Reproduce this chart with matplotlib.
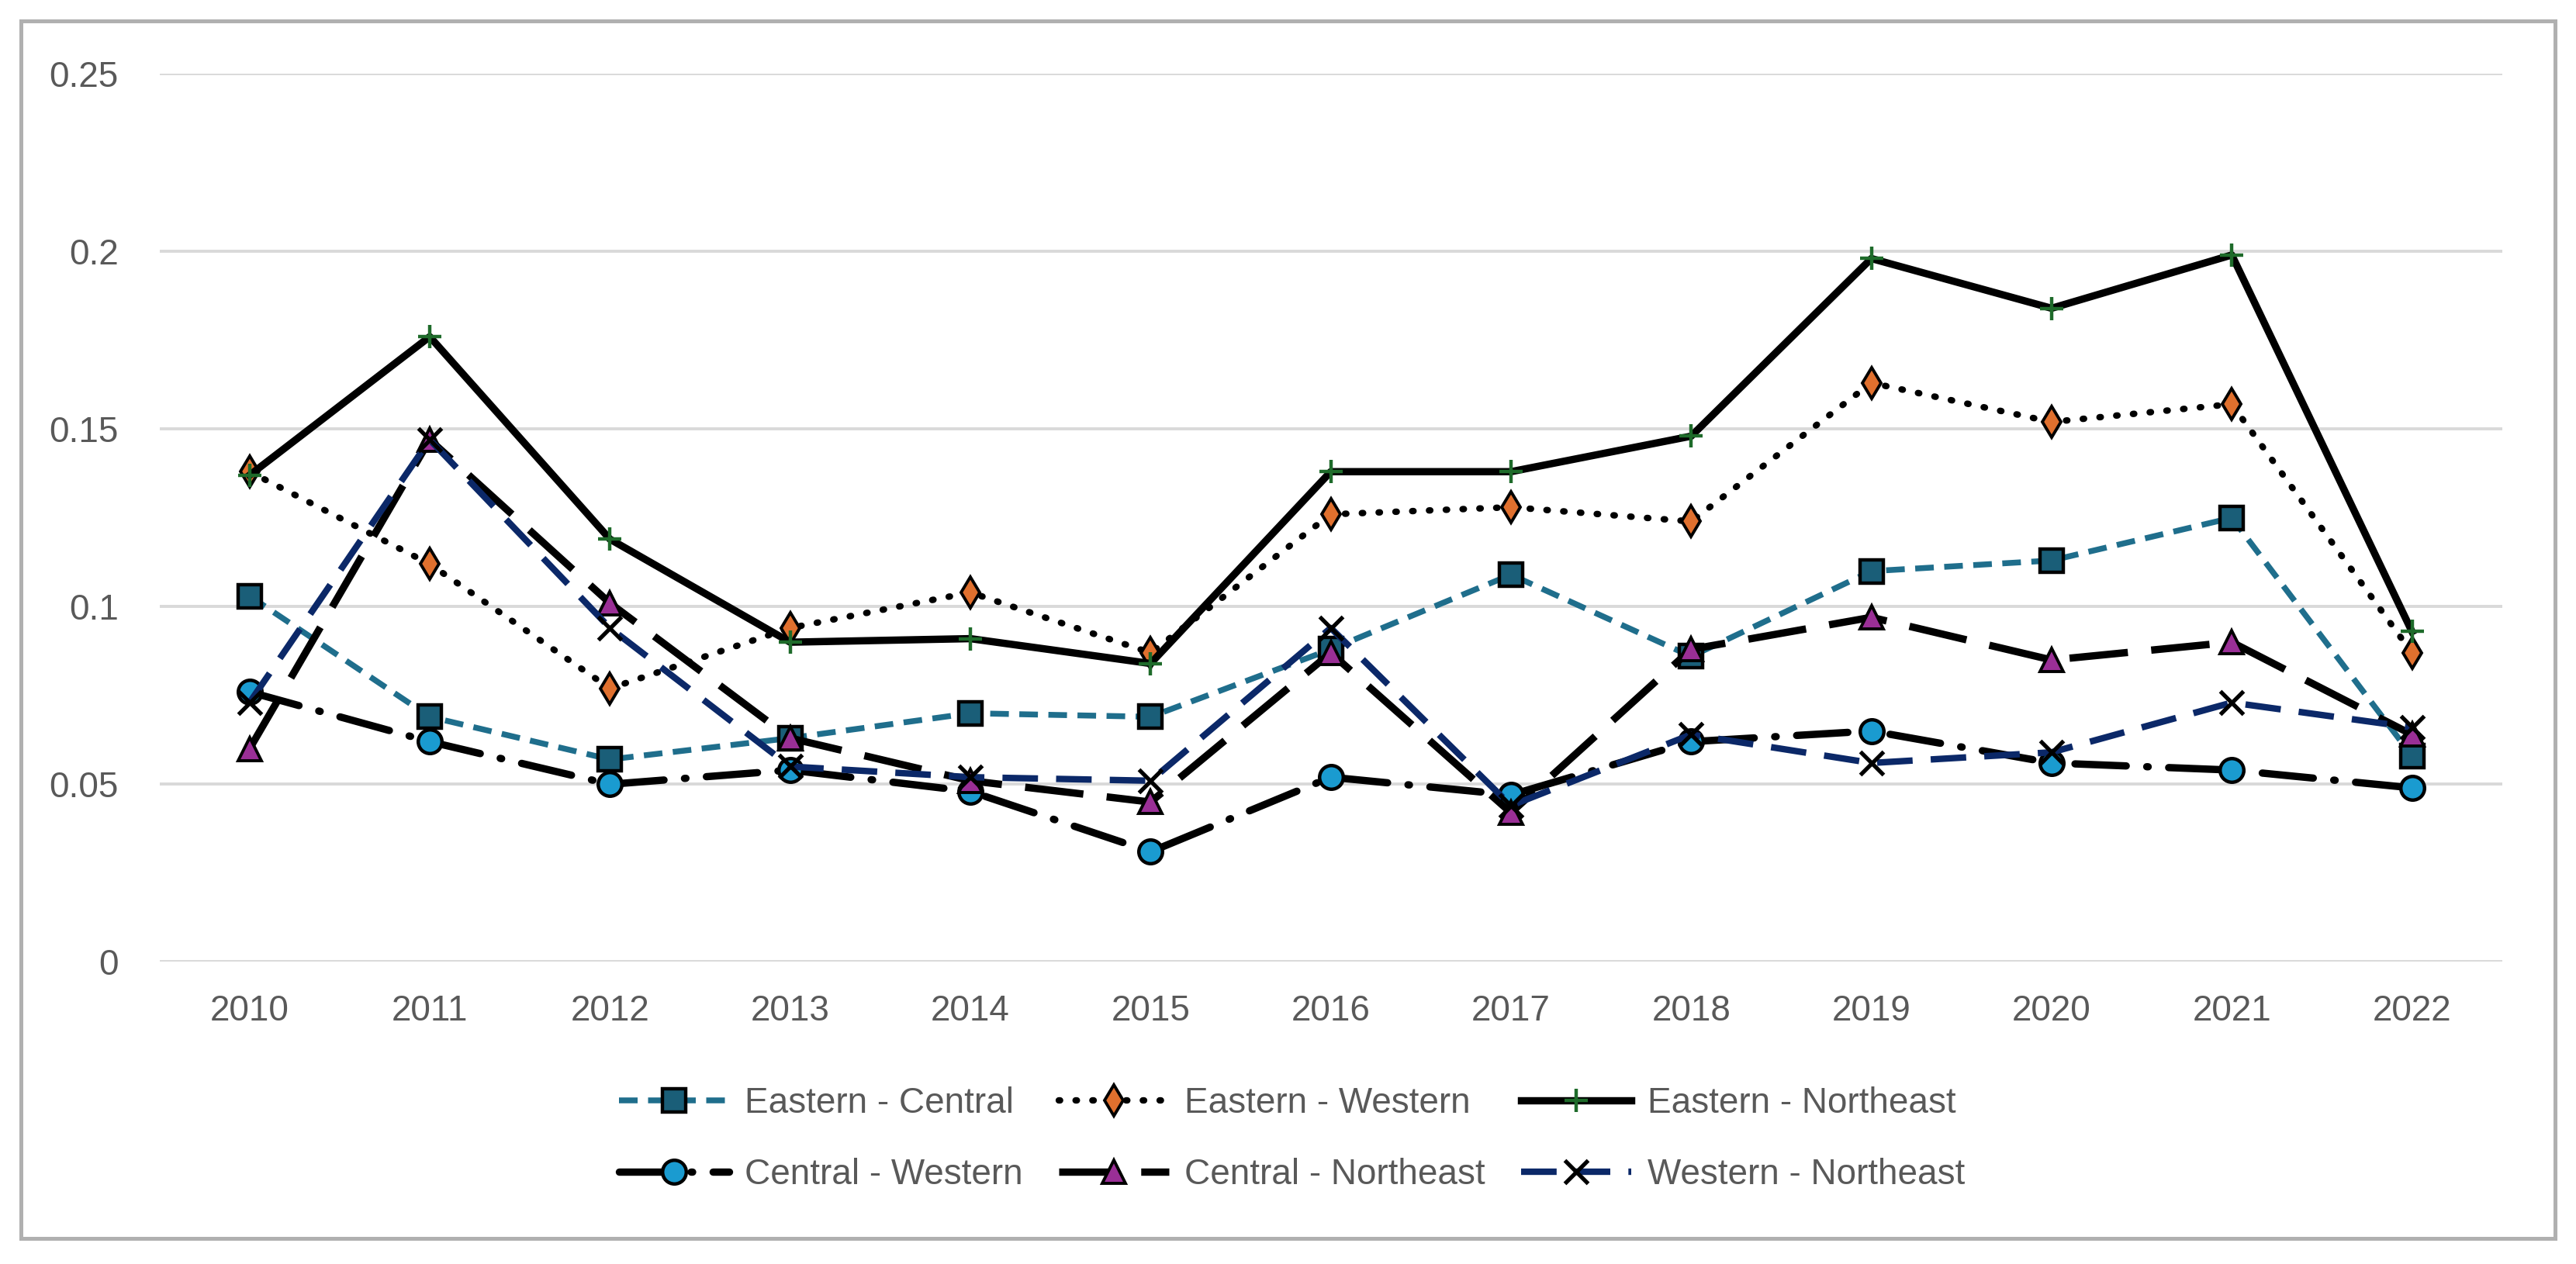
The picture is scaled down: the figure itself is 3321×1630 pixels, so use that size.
import matplotlib
matplotlib.use('Agg')
import matplotlib.pyplot as plt
from matplotlib.patches import Rectangle

plt.rcParams['font.family'] = ['Liberation Sans', 'DejaVu Sans']

years = ['2010', '2011', '2012', '2013', '2014', '2015', '2016',
         '2017', '2018', '2019', '2020', '2021', '2022']

eastern_central = [0.103, 0.069, 0.057, 0.063, 0.070, 0.069, 0.088,
                   0.109, 0.086, 0.110, 0.113, 0.125, 0.058]
eastern_western = [0.138, 0.112, 0.077, 0.094, 0.104, 0.087, 0.126,
                   0.128, 0.124, 0.163, 0.152, 0.157, 0.087]
eastern_northeast = [0.137, 0.176, 0.119, 0.090, 0.091, 0.084, 0.138,
                     0.138, 0.148, 0.198, 0.184, 0.199, 0.093]
central_western = [0.076, 0.062, 0.050, 0.054, 0.048, 0.031, 0.052,
                   0.047, 0.062, 0.065, 0.056, 0.054, 0.049]
central_northeast = [0.060, 0.147, 0.101, 0.063, 0.051, 0.045, 0.087,
                     0.042, 0.088, 0.097, 0.085, 0.090, 0.064]
western_northeast = [0.073, 0.147, 0.094, 0.055, 0.052, 0.051, 0.094,
                     0.044, 0.064, 0.056, 0.059, 0.073, 0.066]

labels = ['Eastern - Central', 'Eastern - Western', 'Eastern - Northeast',
          'Central - Western', 'Central - Northeast', 'Western - Northeast']

fig = plt.figure(figsize=(16.605, 8.15), dpi=200)
ax = fig.add_axes([0.0619, 0.2390, 0.9094, 0.7026])

x = list(range(len(years)))
grey_text = '#595959'
fs = 16.5

h1, = ax.plot(x, eastern_central, color='#1f6e8c', lw=2.7, dashes=(3.2, 1.8),
              marker='s', ms=11, mfc='#1a5e78', mec='black', mew=1.6, label=labels[0])
h2, = ax.plot(x, eastern_western, color='black', lw=3.0, dashes=(0.2, 2.4),
              dash_capstyle='round', marker='d', ms=10, mfc='#e0702e', mec='black',
              mew=1.4, label=labels[1])
h3, = ax.plot(x, eastern_northeast, color='black', lw=3.4, marker='+', ms=11,
              mec='#1e6b2a', mew=1.6, label=labels[2])
h4, = ax.plot(x, central_western, color='black', lw=3.4, dashes=(7.0, 2.8, 0.2, 2.8),
              dash_capstyle='round', marker='o', ms=11, mfc='#1a9bd0', mec='black',
              mew=1.6, label=labels[3])
h5, = ax.plot(x, central_northeast, color='black', lw=3.4, dashes=(8.0, 3.2),
              marker='^', ms=11, mfc='#9a2f96', mec='black', mew=1.4, label=labels[4])
h6, = ax.plot(x, western_northeast, color='#0b2868', lw=3.0, dashes=(5.5, 2.8),
              marker='x', ms=11, mec='black', mew=1.9, label=labels[5])

for h in (h1, h2, h3, h4, h5, h6):
    h.set_clip_on(False)

ax.set_xlim(-0.5, len(years) - 0.5)
ax.set_ylim(0, 0.25)
ax.set_xticks(x)
ax.set_xticklabels(years)
ax.set_yticks([0, 0.05, 0.1, 0.15, 0.2, 0.25])
ax.set_yticklabels(['0', '0.05', '0.1', '0.15', '0.2', '0.25'])
ax.tick_params(axis='both', length=0, labelsize=fs, colors=grey_text)
ax.tick_params(axis='y', pad=19)
ax.tick_params(axis='x', pad=15)
ax.grid(axis='y', color='#d9d9d9', lw=1.4)
ax.set_axisbelow(True)
for s in ax.spines.values():
    s.set_visible(False)

# legend in rows: matplotlib fills columns first
order = [h1, h4, h2, h5, h3, h6]
leg = fig.legend(order, [h.get_label() for h in order], loc='center',
                 bbox_to_anchor=(0.5014, 0.099), ncol=3, frameon=False,
                 fontsize=fs, handlelength=3.1, handletextpad=0.45,
                 columnspacing=1.0, labelspacing=1.05)
for t in leg.get_texts():
    t.set_color(grey_text)

# outer chart border
fig.patches.append(Rectangle((0.0081, 0.0202), 0.9838, 0.9632, transform=fig.transFigure,
                             fill=False, edgecolor='#b0b0b0', lw=1.8))

fig.savefig('out.png', dpi=200)
